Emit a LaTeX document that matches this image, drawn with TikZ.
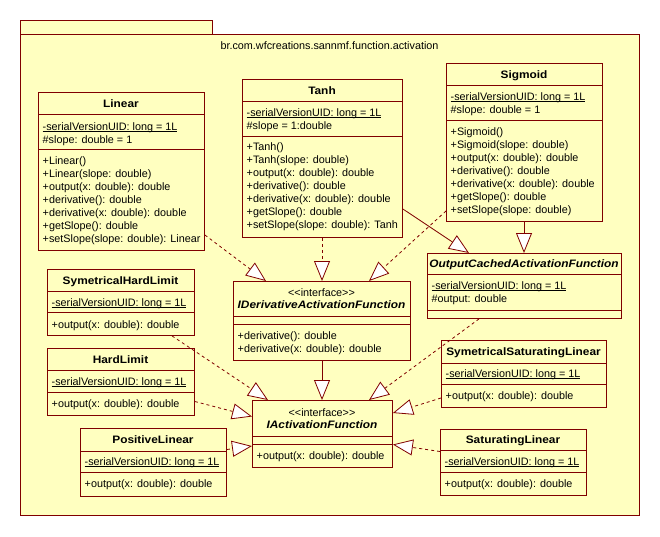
\documentclass[tikz,border=0pt]{standalone}
\usepackage{fontspec}
\setmainfont{Liberation Sans}
\newfontface\titlefont[FakeStretch=1.1]{Liberation Sans Bold}
\newfontface\ititlefont[FakeStretch=1.1]{Liberation Sans Bold Italic}
\usetikzlibrary{arrows.meta}

\definecolor{umlfill}{RGB}{255,255,192}
\definecolor{umlline}{RGB}{128,0,0}

% angle brackets kept apart so they are not merged into guillemets
\newcommand{\ifacestereo}{<\kern0pt<interface>\kern0pt>}
% static member: underline close to the baseline
\newcommand{\staticmember}[1]{\underline{\smash{#1}}}

\tikzset{
  umlbox/.style={draw=umlline, fill=umlfill, line width=0.9pt, inner sep=0pt, anchor=north west},
  umlsep/.style={draw=umlline, line width=0.9pt},
  members/.style={inner sep=0pt, align=left, anchor=north west, font=\fontsize{10.8}{13}\selectfont},
  classname/.style={inner sep=0pt, anchor=base, font=\fontsize{10.8}{13}\titlefont},
  ifacename/.style={inner sep=0pt, anchor=base, font=\fontsize{10.8}{13}\ititlefont},
  stereo/.style={inner sep=0pt, anchor=base, font=\fontsize{10.8}{13}\selectfont},
  gen/.style={draw=umlline, line width=0.8pt, -{Triangle[length=20pt,width=16pt,fill=white]}},
  real/.style={gen, dash pattern=on 3pt off 3pt},
}

\begin{document}
\begin{tikzpicture}[x=1pt,y=-1pt]
\useasboundingbox (0,0) rectangle (660,536);
\fill[white] (0,0) rectangle (660,536);

% package
\node[umlbox, minimum width=192pt, minimum height=14pt] (pkgtab) at (20,20) {};
\node[umlbox, minimum width=619pt, minimum height=481pt] (pkg) at (20,34) {};
\node[stereo] (pkgname) at (329.5,49.5) {br.com.wfcreations.sannmf.function.activation};

% Linear
\node[umlbox, minimum width=166pt, minimum height=158pt] (linear) at (38,92) {};
\draw[umlsep] (linear.west |- 0,114) -- (linear.east |- 0,114);
\draw[umlsep] (linear.west |- 0,149) -- (linear.east |- 0,149);
\node[classname] (linear-title) at (121,107) {Linear};
\node[members] (linear-attr) at (42.5,120.9) {\strut\staticmember{-serialVersionUID: long = 1L}\\\#slope: double = 1};
\node[members] (linear-ops) at (42.5,154.9) {\strut+Linear()\\+Linear(slope: double)\\+output(x: double): double\\+derivative(): double\\+derivative(x: double): double\\+getSlope(): double\\+setSlope(slope: double): Linear};

% Tanh
\node[umlbox, minimum width=160pt, minimum height=158pt] (tanh) at (242,79) {};
\draw[umlsep] (tanh.west |- 0,101) -- (tanh.east |- 0,101);
\draw[umlsep] (tanh.west |- 0,136) -- (tanh.east |- 0,136);
\node[classname] (tanh-title) at (322,94) {Tanh};
\node[members] (tanh-attr) at (246.5,106.9) {\strut\staticmember{-serialVersionUID: long = 1L}\\\#slope = 1:double};
\node[members] (tanh-ops) at (246.5,140.9) {\strut+Tanh()\\+Tanh(slope: double)\\+output(x: double): double\\+derivative(): double\\+derivative(x: double): double\\+getSlope(): double\\+setSlope(slope: double): Tanh};

% Sigmoid
\node[umlbox, minimum width=156pt, minimum height=158pt] (sigmoid) at (446,63) {};
\draw[umlsep] (sigmoid.west |- 0,85) -- (sigmoid.east |- 0,85);
\draw[umlsep] (sigmoid.west |- 0,120) -- (sigmoid.east |- 0,120);
\node[classname] (sigmoid-title) at (524,78) {Sigmoid};
\node[members] (sigmoid-attr) at (450.5,90.9) {\strut\staticmember{-serialVersionUID: long = 1L}\\\#slope: double = 1};
\node[members] (sigmoid-ops) at (450.5,125.9) {\strut+Sigmoid()\\+Sigmoid(slope: double)\\+output(x: double): double\\+derivative(): double\\+derivative(x: double): double\\+getSlope(): double\\+setSlope(slope: double)};

% OutputCachedActivationFunction
\node[umlbox, minimum width=194pt, minimum height=65pt] (cached) at (427,253) {};
\draw[umlsep] (cached.west |- 0,274) -- (cached.east |- 0,274);
\draw[umlsep] (cached.west |- 0,310) -- (cached.east |- 0,310);
\node[ifacename] (cached-title) at (524,267) {OutputCachedActivationFunction};
\node[members] (cached-attr) at (431.5,279.9) {\strut\staticmember{-serialVersionUID: long = 1L}\\\#output: double};

% IDerivativeActivationFunction
\node[umlbox, minimum width=177pt, minimum height=79pt] (ideriv) at (233,281) {};
\draw[umlsep] (ideriv.west |- 0,316) -- (ideriv.east |- 0,316);
\draw[umlsep] (ideriv.west |- 0,324) -- (ideriv.east |- 0,324);
\node[stereo] (ideriv-stereo) at (321.5,296) {\ifacestereo};
\node[ifacename] (ideriv-title) at (321.5,308) {IDerivativeActivationFunction};
\node[members] (ideriv-ops) at (237.5,329.9) {\strut+derivative(): double\\+derivative(x: double): double};

% IActivationFunction
\node[umlbox, minimum width=140pt, minimum height=67pt] (iact) at (252,400) {};
\draw[umlsep] (iact.west |- 0,436) -- (iact.east |- 0,436);
\draw[umlsep] (iact.west |- 0,444) -- (iact.east |- 0,444);
\node[stereo] (iact-stereo) at (322,416) {\ifacestereo};
\node[ifacename] (iact-title) at (322,428) {IActivationFunction};
\node[members] (iact-ops) at (256.5,449.9) {\strut+output(x: double): double};

% SymetricalHardLimit
\node[umlbox, minimum width=147pt, minimum height=66pt] (symhl) at (47,269) {};
\draw[umlsep] (symhl.west |- 0,291) -- (symhl.east |- 0,291);
\draw[umlsep] (symhl.west |- 0,312) -- (symhl.east |- 0,312);
\node[classname] (symhl-title) at (120.5,284) {SymetricalHardLimit};
\node[members] (symhl-attr) at (51.5,296.9) {\strut\staticmember{-serialVersionUID: long = 1L}};
\node[members] (symhl-ops) at (51.5,318.9) {\strut+output(x: double): double};

% HardLimit
\node[umlbox, minimum width=147pt, minimum height=67pt] (hl) at (47,348) {};
\draw[umlsep] (hl.west |- 0,370) -- (hl.east |- 0,370);
\draw[umlsep] (hl.west |- 0,392) -- (hl.east |- 0,392);
\node[classname] (hl-title) at (120.5,363) {HardLimit};
\node[members] (hl-attr) at (51.5,375.9) {\strut\staticmember{-serialVersionUID: long = 1L}};
\node[members] (hl-ops) at (51.5,397.9) {\strut+output(x: double): double};

% PositiveLinear
\node[umlbox, minimum width=146pt, minimum height=68pt] (pl) at (80,428) {};
\draw[umlsep] (pl.west |- 0,451) -- (pl.east |- 0,451);
\draw[umlsep] (pl.west |- 0,472) -- (pl.east |- 0,472);
\node[classname] (pl-title) at (153,443) {PositiveLinear};
\node[members] (pl-attr) at (84.5,455.9) {\strut\staticmember{-serialVersionUID: long = 1L}};
\node[members] (pl-ops) at (84.5,477.9) {\strut+output(x: double): double};

% SymetricalSaturatingLinear
\node[umlbox, minimum width=165pt, minimum height=67pt] (symsat) at (441,340) {};
\draw[umlsep] (symsat.west |- 0,363) -- (symsat.east |- 0,363);
\draw[umlsep] (symsat.west |- 0,384) -- (symsat.east |- 0,384);
\node[classname] (symsat-title) at (523.5,355) {SymetricalSaturatingLinear};
\node[members] (symsat-attr) at (445.5,367.9) {\strut\staticmember{-serialVersionUID: long = 1L}};
\node[members] (symsat-ops) at (445.5,389.9) {\strut+output(x: double): double};

% SaturatingLinear
\node[umlbox, minimum width=146pt, minimum height=66pt] (satlin) at (440,429) {};
\draw[umlsep] (satlin.west |- 0,450) -- (satlin.east |- 0,450);
\draw[umlsep] (satlin.west |- 0,472) -- (satlin.east |- 0,472);
\node[classname] (satlin-title) at (513,443.5) {SaturatingLinear};
\node[members] (satlin-attr) at (444.5,455.9) {\strut\staticmember{-serialVersionUID: long = 1L}};
\node[members] (satlin-ops) at (444.5,477.9) {\strut+output(x: double): double};

% realizations of IDerivativeActivationFunction
\draw[real] (linear.east |- 0,235) -- (ideriv.north -| 266,0);
\draw[real] (tanh.south -| 322,0) -- (ideriv.north -| 322,0);
\draw[real] (sigmoid.west |- 0,211) -- (ideriv.north -| 369,0);

% generalizations
\draw[gen] (tanh.east |- 0,209) -- (cached.north -| 469,0);
\draw[gen] (sigmoid.south -| 524,0) -- (cached.north -| 524,0);
\draw[gen] (ideriv.south -| 322,0) -- (iact.north -| 322,0);

% realizations of IActivationFunction
\draw[real] (symhl.south -| 172,0) -- (iact.north -| 268,0);
\draw[real] (cached.south -| 479,0) -- (iact.north -| 369,0);
\draw[real] (hl.east |- 0,401.5) -- (iact.west |- 0,416.5);
\draw[real] (pl.east |- 0,449.5) -- (iact.west |- 0,446);
\draw[real] (symsat.west |- 0,398) -- (iact.east |- 0,413);
\draw[real] (satlin.west |- 0,451.5) -- (iact.east |- 0,444.5);
\end{tikzpicture}
\end{document}
